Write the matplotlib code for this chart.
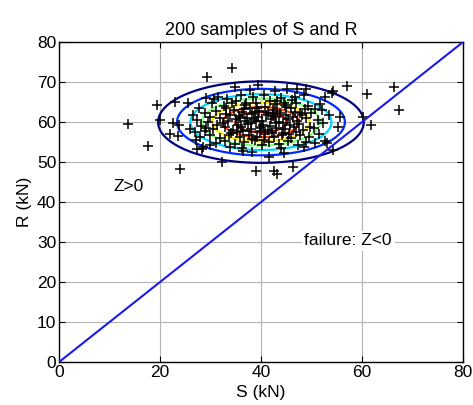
import numpy as np
import matplotlib
matplotlib.use("Agg")
import matplotlib.pyplot as plt

plt.rcParams['font.family'] = ['Liberation Sans', 'DejaVu Sans']

# Load effect S and resistance R (kN) of the 200 samples
samples = [
    (13.7, 59.5), (17.7, 54.1), (19.5, 64.4), (20.0, 60.5), (24.0, 48.2), (23.0, 65.0),
    (25.6, 64.8), (22.6, 59.7), (23.8, 59.3), (22.0, 57.0), (23.6, 56.5), (27.3, 53.4),
    (28.3, 53.3), (27.7, 63.6), (29.2, 66.0), (26.9, 57.6), (29.2, 58.6), (29.4, 71.2),
    (34.2, 73.6), (39.5, 69.4), (34.9, 68.8), (37.8, 68.0), (42.8, 67.8), (45.1, 68.4),
    (47.1, 68.4), (32.2, 50.1), (39.1, 47.8), (42.5, 47.8), (43.1, 47.0), (46.4, 48.7),
    (36.5, 52.8), (38.2, 52.6), (41.5, 51.2), (44.6, 52.2), (28.6, 53.8), (49.0, 68.4),
    (54.3, 67.8), (54.0, 67.2), (57.0, 69.0), (61.1, 67.0), (66.4, 68.7), (67.4, 63.0),
    (61.8, 59.3), (60.3, 61.2), (52.7, 66.3), (55.6, 61.3), (55.3, 58.8), (50.7, 63.4),
    (52.0, 63.0), (52.3, 59.7), (50.7, 54.7), (53.0, 54.7), (54.3, 53.0), (49.7, 58.8),
    (52.7, 55.4), (29.9, 54.2),
    (31.5, 66.4), (33.2, 65.8), (36.0, 66.9), (38.4, 66.2), (40.6, 66.7), (43.9, 66.1),
    (46.2, 65.6), (48.5, 66.8), (35.1, 65.2), (41.8, 65.4),
    (30.4, 64.7), (32.6, 64.1), (34.3, 64.9), (36.8, 64.4), (39.0, 64.8), (40.9, 63.9),
    (42.7, 64.6), (44.8, 64.2), (47.0, 64.9), (49.3, 64.0), (37.9, 63.6), (45.9, 63.5),
    (28.9, 62.3), (31.1, 62.8), (33.0, 62.1), (34.7, 63.0), (36.3, 62.5), (38.2, 62.0),
    (39.7, 62.9), (41.4, 62.4), (43.2, 62.8), (44.9, 61.9), (46.7, 62.6), (48.1, 61.8),
    (50.0, 62.4), (35.6, 61.6), (42.3, 61.5), (30.0, 61.4),
    (27.4, 60.6), (29.6, 60.1), (31.8, 61.0), (33.5, 60.4), (35.0, 60.9), (36.9, 60.2),
    (38.6, 60.8), (40.2, 60.3), (41.9, 60.9), (43.6, 60.1), (45.3, 60.7), (47.2, 60.4),
    (49.0, 61.0), (51.2, 60.5), (37.4, 59.6), (39.5, 61.3), (44.4, 59.8), (32.4, 59.9),
    (26.0, 58.4), (28.2, 59.0), (30.5, 58.2), (32.9, 58.8), (34.4, 58.1), (36.1, 58.7),
    (38.0, 58.3), (39.8, 58.9), (41.3, 58.0), (43.0, 58.6), (44.7, 58.2), (46.5, 58.9),
    (48.3, 58.1), (50.5, 58.6), (35.3, 57.6), (42.1, 57.4),
    (27.9, 56.3), (30.0, 56.9), (31.9, 56.1), (33.7, 56.8), (35.8, 56.2), (37.6, 56.9),
    (39.3, 56.4), (40.8, 57.0), (42.6, 56.3), (44.2, 56.8), (46.0, 56.0), (47.8, 56.7),
    (49.6, 56.2), (51.5, 57.1), (38.8, 55.6),
    (31.0, 54.8), (32.8, 55.2), (34.9, 54.5), (36.7, 55.0), (40.3, 54.3), (41.6, 55.1),
    (43.5, 54.6), (45.4, 55.2), (47.4, 54.4), (49.0, 55.0), (33.8, 53.9), (44.0, 53.6),
    (33.9, 61.9), (35.4, 59.3), (36.6, 63.4), (37.2, 61.1), (38.1, 59.8), (38.9, 62.6),
    (39.9, 57.8), (40.5, 59.4), (41.0, 61.7), (41.7, 59.1), (42.4, 63.1), (42.9, 59.7),
    (43.8, 62.3), (44.3, 57.3), (45.0, 63.8), (45.7, 59.2), (46.3, 61.3), (47.5, 59.6),
    (34.0, 57.2), (36.4, 57.9), (37.0, 64.9), (39.2, 63.5), (40.0, 58.5), (46.9, 57.6),
    (48.8, 63.2), (31.3, 59.4), (29.0, 57.7), (33.1, 63.6), (35.9, 61.0), (43.1, 65.3),
    (38.3, 55.9), (40.7, 55.5), (42.8, 61.2), (44.6, 64.7), (47.7, 62.4), (45.6, 57.0),
    (36.2, 53.5), (48.6, 53.9), (51.6, 64.6), (30.7, 65.7), (26.6, 61.8), (27.1, 55.6),
    (53.4, 61.9), (46.8, 66.3), (39.0, 60.2),
]
s_vals = np.array([p[0] for p in samples])
r_vals = np.array([p[1] for p in samples])

# Distribution parameters of S and R (kN)
mu_s, sigma_s = 40.0, 10.0
mu_r, sigma_r = 60.0, 5.0
pdf_levels = [0.0004, 0.0008, 0.0012, 0.0016, 0.0020, 0.0024, 0.0028]

ticks = [0, 20, 40, 60, 80]
yticks = [0, 10, 20, 30, 40, 50, 60, 70, 80]

fig = plt.figure(figsize=(4.73, 4.05), dpi=100)
ax = fig.add_axes([0.1247, 0.106, 0.854, 0.790])

# joint normal density of S and R
sg, rg = np.meshgrid(np.linspace(0, 80, 401), np.linspace(0, 80, 401))
pdf = (np.exp(-0.5 * (((sg - mu_s) / sigma_s) ** 2 + ((rg - mu_r) / sigma_r) ** 2))
       / (2 * np.pi * sigma_s * sigma_r))
ax.contour(sg, rg, pdf, levels=pdf_levels, cmap='jet', linewidths=1.6, zorder=2)

ax.plot(s_vals, r_vals, '+', color='black', markersize=6.5, markeredgewidth=1.1, zorder=3)

# limit state line Z = R - S = 0
ax.plot([0, 80], [0, 80], color='#1a1ae6', lw=1.5, zorder=4)

ax.text(10.8, 44, 'Z>0', fontsize=12.5, va='center', ha='left', zorder=5)
ax.text(48.6, 30.3, 'failure: Z<0', fontsize=12.5, va='center', ha='left', zorder=5,
        bbox=dict(facecolor='white', edgecolor='none', pad=2))

ax.set_xlim(0, 80)
ax.set_ylim(0, 80)
ax.set_xticks(ticks)
ax.set_yticks(yticks)
ax.grid(True, color='#b4b4b4', lw=0.8, zorder=0)
ax.set_axisbelow(True)
ax.tick_params(direction='in', top=True, right=True, length=4, labelsize=12.5, pad=2)
for sp in ax.spines.values():
    sp.set_linewidth(1.0)
ax.set_xlabel('S (kN)', fontsize=12.5, labelpad=4)
ax.set_ylabel('R (kN)', fontsize=12.5)
ax.yaxis.set_label_coords(-0.068, 0.5)
ax.set_title('200 samples of S and R', fontsize=13, pad=5)

fig.savefig('out.png', dpi=100)
